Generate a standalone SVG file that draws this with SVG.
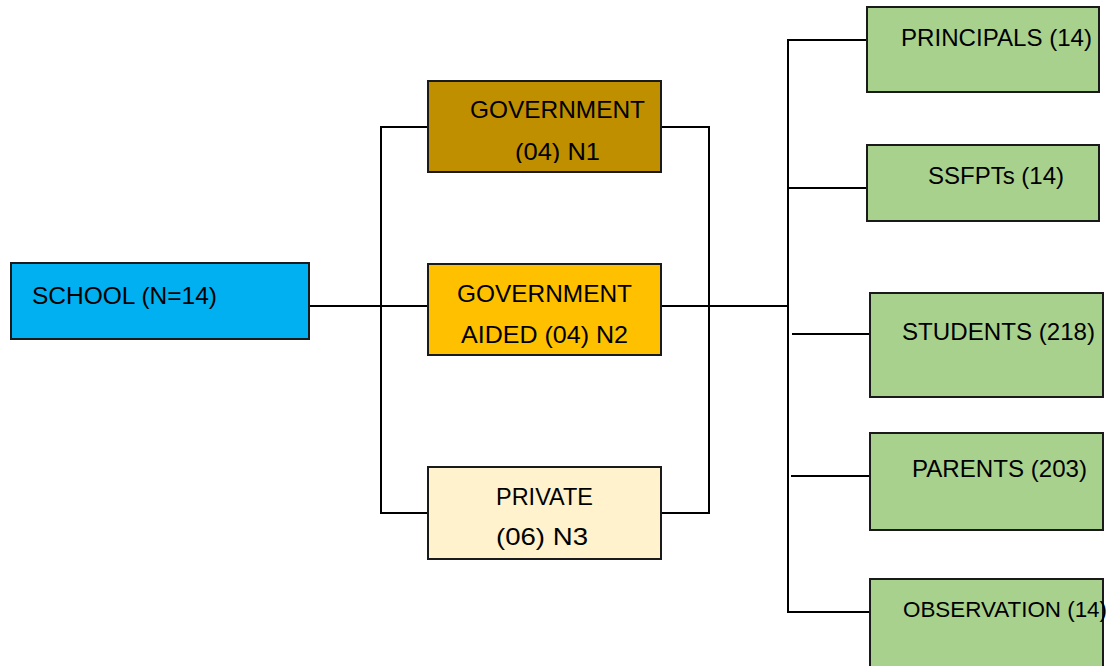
<svg xmlns="http://www.w3.org/2000/svg" width="1115" height="666" viewBox="0 0 1115 666">
  <style>
    .box { stroke: #1a1a1a; stroke-width: 2; }
    .lbl { font-family: "Liberation Sans", Arial, sans-serif; font-size: 24.5px; fill: #000; }
    .small { font-size: 22.5px; }
    .wire { fill: none; stroke: #000; stroke-width: 2; }
    .school { fill: #00B0F0; }
    .gov { fill: #BF8F00; }
    .aided { fill: #FFC000; }
    .private { fill: #FFF2CC; }
    .group { fill: #A9D18E; }
  </style>
  <defs>
    <clipPath id="govClip">
      <rect x="428" y="81" width="233" height="82"/>
    </clipPath>
  </defs>

  <rect width="1115" height="666" fill="#fff"/>

  <!-- connectors -->
  <g id="connectors">
    <!-- school to the three school types -->
    <path class="wire" d="M309 306 H428"/>
    <path class="wire" d="M428 127 H381 V513 H428"/>
    <!-- school types merge on the right -->
    <path class="wire" d="M661 127 H709 V513 H661"/>
    <path class="wire" d="M661 306 H788"/>
    <!-- trunk to respondent groups -->
    <path class="wire" d="M867 40 H788 V612 H870"/>
    <path class="wire" d="M788 188 H867"/>
    <path class="wire" d="M792 334 H870"/>
    <path class="wire" d="M791 476 H870"/>
  </g>

  <g id="school">
    <rect class="box school" x="11" y="263" width="298" height="76"/>
    <text class="lbl" x="32" y="304" textLength="185" lengthAdjust="spacingAndGlyphs">SCHOOL (N=14)</text>
  </g>

  <g id="government">
    <rect class="box gov" x="428" y="81" width="233" height="91"/>
    <g clip-path="url(#govClip)">
      <text class="lbl" x="470" y="118" textLength="175" lengthAdjust="spacingAndGlyphs">GOVERNMENT</text>
      <text class="lbl" x="515" y="160" textLength="85" lengthAdjust="spacingAndGlyphs">(04) N1</text>
    </g>
  </g>

  <g id="government-aided">
    <rect class="box aided" x="428" y="264" width="233" height="91"/>
    <text class="lbl" x="457" y="302" textLength="175" lengthAdjust="spacingAndGlyphs">GOVERNMENT</text>
    <text class="lbl" x="461" y="343" textLength="167" lengthAdjust="spacingAndGlyphs">AIDED (04) N2</text>
  </g>

  <g id="private">
    <rect class="box private" x="428" y="467" width="233" height="92"/>
    <text class="lbl" x="496" y="505" textLength="97" lengthAdjust="spacingAndGlyphs">PRIVATE</text>
    <text class="lbl" x="496" y="545" textLength="92" lengthAdjust="spacingAndGlyphs">(06) N3</text>
  </g>

  <g id="principals">
    <rect class="box group" x="867" y="7" width="232" height="85"/>
    <text class="lbl" x="901" y="46" textLength="191" lengthAdjust="spacingAndGlyphs">PRINCIPALS (14)</text>
  </g>

  <g id="ssfpts">
    <rect class="box group" x="867" y="145" width="232" height="76"/>
    <text class="lbl" x="928" y="184" textLength="136" lengthAdjust="spacingAndGlyphs">SSFPTs (14)</text>
  </g>

  <g id="students">
    <rect class="box group" x="870" y="293" width="233" height="104"/>
    <text class="lbl" x="902" y="340" textLength="193" lengthAdjust="spacingAndGlyphs">STUDENTS (218)</text>
  </g>

  <g id="parents">
    <rect class="box group" x="870" y="433" width="233" height="97"/>
    <text class="lbl" x="912" y="477" textLength="175" lengthAdjust="spacingAndGlyphs">PARENTS (203)</text>
  </g>

  <g id="observation">
    <rect class="box group" x="870" y="579" width="233" height="100"/>
    <text class="lbl small" x="903" y="617" textLength="204" lengthAdjust="spacingAndGlyphs">OBSERVATION (14)</text>
  </g>
</svg>
